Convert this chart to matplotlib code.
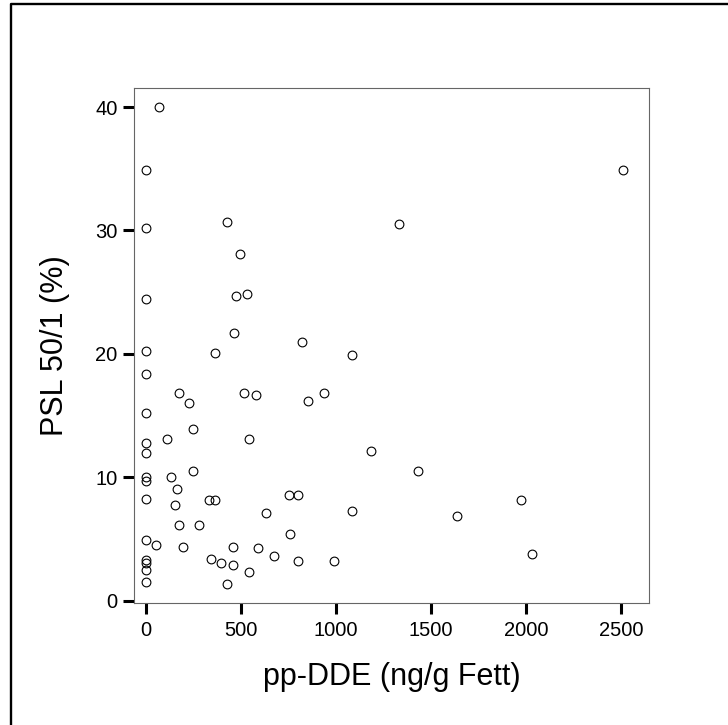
"""
Scatter of PSL 50/1 (%) against pp-DDE (ng/g Fett).
Writes out.png (728x725).
"""

import matplotlib
matplotlib.use("Agg")
import matplotlib.pyplot as plt
from matplotlib.lines import Line2D

# values
dde = [
    70, 0, 0, 425, 496, 475, 530, 0, 465, 823, 1330, 2510,
    0, 361, 1083, 0, 174, 516, 581, 937, 226, 854, 0, 249,
    109, 540, 0, 0, 1186, 0, 0, 130, 249, 163, 0, 153,
    332, 363, 751, 798, 633, 1083, 174, 277, 758, 0, 51, 195,
    456, 591, 674, 342, 393, 458, 798, 988, 0, 0, 0, 540,
    0, 425, 1430, 1637, 1975, 2033,
]
psl = [
    40.0, 34.9, 30.2, 30.7, 28.1, 24.7, 24.85, 24.45, 21.7, 20.95, 30.5, 34.9,
    20.2, 20.07, 19.9, 18.4, 16.83, 16.83, 16.67, 16.83, 16.02, 16.18, 15.2, 13.9,
    13.1, 13.1, 12.75, 11.97, 12.13, 10.05, 9.72, 10.05, 10.5, 9.05, 8.24, 7.76,
    8.16, 8.16, 8.57, 8.57, 7.1, 7.27, 6.13, 6.13, 5.4, 4.92, 4.51, 4.35,
    4.35, 4.27, 3.62, 3.37, 3.05, 2.88, 3.21, 3.21, 3.3, 3.03, 2.49, 2.33,
    1.52, 1.35, 10.5, 6.84, 8.13, 3.76,
]
x_ticks = [0, 500, 1000, 1500, 2000, 2500]
y_ticks = [0, 10, 20, 30, 40]

plt.rcParams["font.family"] = ["Liberation Sans", "DejaVu Sans"]

W, H = 728, 725
fig = plt.figure(figsize=(W / 100, H / 100), dpi=100)
ax = fig.add_axes([134.3 / W, 1 - 602.7 / H, 515.0 / W, 515.0 / H])

ax.plot(dde, psl, linestyle="none", marker="o", markersize=6.3,
        markerfacecolor="none", markeredgecolor="black", markeredgewidth=0.8)

ax.set_xlim(-62, 2649)
ax.set_ylim(-0.17, 41.57)
ax.set_xticks(x_ticks)
ax.set_yticks(y_ticks)
ax.tick_params(axis="both", direction="out", length=7.8, width=2.2,
               color="black", labelsize=14.5)
ax.tick_params(axis="y", pad=4.3)
ax.tick_params(axis="x", pad=5.5)
for s in ax.spines.values():
    s.set_color("#666666")
    s.set_linewidth(0.8)

ax.set_xlabel("pp-DDE (ng/g Fett)", fontsize=22, labelpad=16)
ax.set_ylabel("PSL 50/1 (%)", fontsize=22, labelpad=18)

# outer frame: only left and top edges fall inside the picture
frame = Line2D([10.5 / W, 10.5 / W, 1.0], [0.0, 1 - 4.2 / H, 1 - 4.2 / H],
               transform=fig.transFigure, color="black", linewidth=1.7)
fig.add_artist(frame)

fig.savefig("out.png", dpi=100)
